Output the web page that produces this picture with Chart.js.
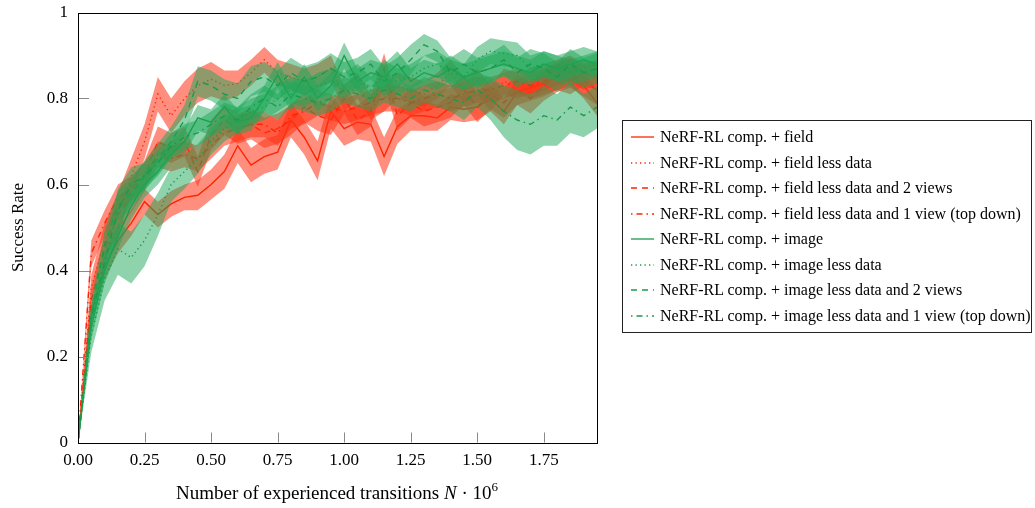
<!DOCTYPE html>
<html>
<head>
<meta charset="utf-8">
<script src="https://cdn.jsdelivr.net/npm/chart.js@4.4.0/dist/chart.umd.min.js"></script>
<style>
  html, body { margin:0; padding:0; background:#fff; }
  #wrap { position:relative; width:1035px; height:508px; overflow:hidden; }
  #c { position:absolute; left:0; top:0; }
  .serif { font-family:"Liberation Serif","DejaVu Serif",serif; color:#000; }
  #xtitle { position:absolute; left:78px; width:518px; top:481px; text-align:center; font-size:19px; line-height:24px; }
  #xtitle sup { font-size:13px; vertical-align:0; position:relative; top:-8px; }
  #legend { position:absolute; left:622px; top:120px; width:410px; height:213px; border:1px solid #222; box-sizing:border-box; }
  .row { position:absolute; left:0; height:20px; font-size:16px; line-height:20px; white-space:nowrap; }
  .row svg { position:absolute; left:8px; top:4px; }
  .row span { position:absolute; left:37px; top:0; }
</style>
</head>
<body>
<div id="wrap">
  <canvas id="c" width="1035" height="508"></canvas>
  <div id="xtitle" class="serif">Number of experienced transitions <i>N</i> · 10<sup>6</sup></div>
  <div id="legend" class="serif"></div>
</div>
<script>
// ---- data ----
const xValues = [0,0.05,0.10,0.15,0.20,0.25,0.30,0.35,0.40,0.45,0.50,0.55,0.60,0.65,0.70,0.75,0.80,0.85,0.90,0.95,
                 1.00,1.05,1.10,1.15,1.20,1.25,1.30,1.35,1.40,1.45,1.50,1.55,1.60,1.65,1.70,1.75,1.80,1.85,1.90,1.95];

const fieldMean = [0,0.30,0.41,0.47,0.51,0.56,0.53,0.555,0.57,0.575,0.60,0.63,0.69,0.645,0.665,0.675,0.75,0.71,0.655,0.77,
                   0.73,0.745,0.74,0.665,0.735,0.76,0.76,0.755,0.78,0.775,0.78,0.80,0.77,0.815,0.825,0.835,0.85,0.86,0.83,0.79];
const fieldSpread = [0,0.02,0.03,0.03,0.03,0.03,0.03,0.03,0.03,0.035,0.035,0.04,0.04,0.04,0.04,0.04,0.04,0.04,0.045,0.04,
                     0.04,0.04,0.04,0.045,0.04,0.035,0.035,0.03,0.03,0.03,0.03,0.03,0.03,0.03,0.03,0.03,0.03,0.03,0.03,0.03];

const fieldLessMean = [0,0.36,0.47,0.53,0.62,0.70,0.81,0.76,0.80,0.83,0.845,0.83,0.835,0.86,0.89,0.86,0.85,0.84,0.85,0.87,
                       0.80,0.83,0.78,0.80,0.83,0.82,0.81,0.83,0.86,0.82,0.84,0.80,0.84,0.83,0.84,0.85,0.86,0.87,0.85,0.86];
const fieldLessSpread = [0,0.03,0.04,0.05,0.04,0.04,0.04,0.04,0.04,0.04,0.04,0.035,0.03,0.03,0.03,0.03,0.03,0.03,0.03,0.03,
                         0.03,0.03,0.03,0.03,0.03,0.03,0.03,0.03,0.03,0.03,0.03,0.03,0.03,0.03,0.03,0.03,0.03,0.03,0.03,0.03];

const field2vMean = [0,0.33,0.45,0.53,0.57,0.62,0.70,0.685,0.70,0.63,0.715,0.75,0.73,0.74,0.72,0.73,0.75,0.78,0.76,0.75,
                     0.80,0.75,0.77,0.87,0.76,0.79,0.77,0.78,0.79,0.82,0.78,0.81,0.79,0.82,0.80,0.83,0.85,0.86,0.84,0.82];
const field2vSpread = [0,0.03,0.035,0.035,0.035,0.035,0.035,0.035,0.035,0.035,0.035,0.035,0.035,0.035,0.035,0.035,0.035,0.035,0.035,0.035,
                       0.035,0.035,0.035,0.035,0.035,0.035,0.035,0.035,0.035,0.035,0.035,0.035,0.035,0.035,0.035,0.035,0.035,0.035,0.035,0.035];

const field1vMean = [0,0.44,0.51,0.57,0.59,0.62,0.67,0.66,0.67,0.66,0.69,0.72,0.73,0.74,0.74,0.72,0.76,0.77,0.79,0.78,
                     0.77,0.78,0.79,0.80,0.80,0.79,0.80,0.81,0.80,0.81,0.82,0.82,0.83,0.84,0.83,0.84,0.85,0.84,0.86,0.85];
const field1vSpread = [0,0.03,0.03,0.03,0.03,0.03,0.03,0.03,0.03,0.03,0.03,0.03,0.03,0.03,0.03,0.03,0.03,0.03,0.03,0.03,
                       0.03,0.03,0.03,0.03,0.03,0.03,0.03,0.03,0.03,0.03,0.03,0.03,0.03,0.03,0.03,0.03,0.03,0.03,0.03,0.03];

const imageMean = [0,0.27,0.40,0.48,0.55,0.60,0.63,0.67,0.70,0.755,0.745,0.78,0.745,0.755,0.80,0.855,0.80,0.85,0.80,0.83,
                   0.90,0.84,0.86,0.85,0.88,0.84,0.86,0.85,0.87,0.85,0.86,0.87,0.88,0.87,0.86,0.88,0.87,0.88,0.89,0.88];
const imageSpread = [0,0.03,0.03,0.03,0.03,0.03,0.03,0.03,0.03,0.03,0.03,0.03,0.03,0.03,0.03,0.03,0.03,0.03,0.03,0.03,
                     0.03,0.03,0.03,0.03,0.03,0.03,0.03,0.03,0.03,0.03,0.03,0.03,0.03,0.03,0.03,0.03,0.03,0.03,0.03,0.03];

const imageLessMean = [0,0.25,0.38,0.45,0.43,0.47,0.53,0.60,0.63,0.66,0.70,0.73,0.75,0.77,0.78,0.80,0.82,0.81,0.83,0.84,
                       0.83,0.85,0.82,0.86,0.84,0.85,0.87,0.88,0.86,0.85,0.89,0.91,0.905,0.90,0.87,0.88,0.87,0.86,0.87,0.88];
const imageLessSpread = [0,0.04,0.05,0.06,0.06,0.06,0.05,0.04,0.04,0.035,0.03,0.03,0.03,0.03,0.03,0.03,0.03,0.03,0.03,0.03,
                         0.03,0.03,0.03,0.03,0.03,0.03,0.03,0.03,0.03,0.03,0.03,0.03,0.03,0.03,0.03,0.03,0.03,0.03,0.03,0.03];

const image2vMean = [0,0.30,0.46,0.55,0.58,0.62,0.66,0.70,0.75,0.84,0.83,0.81,0.80,0.84,0.85,0.83,0.86,0.84,0.85,0.87,
                     0.85,0.86,0.88,0.84,0.86,0.89,0.925,0.91,0.86,0.88,0.86,0.87,0.89,0.86,0.88,0.87,0.85,0.88,0.86,0.87];
const image2vSpread = [0,0.03,0.035,0.035,0.035,0.035,0.035,0.035,0.035,0.035,0.035,0.035,0.035,0.035,0.035,0.035,0.035,0.035,0.035,0.035,
                       0.035,0.035,0.035,0.035,0.035,0.035,0.025,0.025,0.035,0.035,0.035,0.035,0.035,0.035,0.035,0.035,0.035,0.035,0.035,0.035];

const image1vMean = [0,0.29,0.42,0.54,0.60,0.62,0.65,0.69,0.71,0.72,0.74,0.76,0.75,0.78,0.80,0.78,0.81,0.80,0.79,0.80,
                     0.82,0.81,0.80,0.82,0.81,0.80,0.82,0.81,0.80,0.79,0.82,0.80,0.77,0.75,0.74,0.76,0.75,0.78,0.76,0.78];
const image1vSpread = [0,0.03,0.03,0.05,0.04,0.03,0.03,0.03,0.03,0.03,0.03,0.03,0.03,0.03,0.03,0.03,0.03,0.03,0.03,0.03,
                       0.03,0.03,0.03,0.03,0.03,0.03,0.03,0.03,0.03,0.04,0.04,0.05,0.06,0.07,0.07,0.07,0.06,0.06,0.05,0.05];

const xTickValues = [0,0.25,0.50,0.75,1.00,1.25,1.50,1.75];
const seriesNames = [
  "NeRF-RL comp. + field",
  "NeRF-RL comp. + field less data",
  "NeRF-RL comp. + field less data and 2 views",
  "NeRF-RL comp. + field less data and 1 view (top down)",
  "NeRF-RL comp. + image",
  "NeRF-RL comp. + image less data",
  "NeRF-RL comp. + image less data and 2 views",
  "NeRF-RL comp. + image less data and 1 view (top down)"
];

// ---- styles ----
const RED = 'rgb(255,36,0)', RED_BAND = 'rgba(255,50,20,0.55)';
const GREEN = 'rgb(24,155,74)', GREEN_BAND = 'rgba(30,168,88,0.5)';
const DASHES = [[], [1.3,3.2], [6,5], [1.5,4,6,4]];

const series = [
  {mean: fieldMean, spread: fieldSpread, color: RED, band: RED_BAND, dash: DASHES[0]},
  {mean: fieldLessMean, spread: fieldLessSpread, color: RED, band: RED_BAND, dash: DASHES[1]},
  {mean: field2vMean, spread: field2vSpread, color: RED, band: RED_BAND, dash: DASHES[2]},
  {mean: field1vMean, spread: field1vSpread, color: RED, band: RED_BAND, dash: DASHES[3]},
  {mean: imageMean, spread: imageSpread, color: GREEN, band: GREEN_BAND, dash: DASHES[0]},
  {mean: imageLessMean, spread: imageLessSpread, color: GREEN, band: GREEN_BAND, dash: DASHES[1]},
  {mean: image2vMean, spread: image2vSpread, color: GREEN, band: GREEN_BAND, dash: DASHES[2]},
  {mean: image1vMean, spread: image1vSpread, color: GREEN, band: GREEN_BAND, dash: DASHES[3]}
];

const datasets = [];
series.forEach((s, k) => {
  datasets.push({
    label: seriesNames[k] + ' upper',
    data: xValues.map((x, i) => ({x, y: s.mean[i] + s.spread[i]})),
    borderColor: 'rgba(0,0,0,0)', borderWidth: 0, pointRadius: 0, fill: false, tension: 0
  });
  datasets.push({
    label: seriesNames[k] + ' lower',
    data: xValues.map((x, i) => ({x, y: s.mean[i] - s.spread[i]})),
    borderColor: 'rgba(0,0,0,0)', borderWidth: 0, pointRadius: 0, fill: '-1',
    backgroundColor: s.band, tension: 0
  });
  datasets.push({
    label: seriesNames[k],
    data: xValues.map((x, i) => ({x, y: s.mean[i]})),
    borderColor: s.color, borderWidth: 1.4, borderDash: s.dash, pointRadius: 0, fill: false, tension: 0
  });
});
datasets.forEach((d, i) => { d.order = 1000 - i; });

const frame = {
  id: 'frame',
  afterDatasetsDraw(chart) {
    const {ctx, chartArea: a, scales} = chart;
    ctx.save();
    ctx.strokeStyle = '#8a8a8a';
    ctx.lineWidth = 1;
    xTickValues.forEach(v => {
      const px = Math.round(scales.x.getPixelForValue(v)) + 0.5;
      ctx.beginPath(); ctx.moveTo(px, a.bottom); ctx.lineTo(px, a.bottom - 10); ctx.stroke();
    });
    scales.y.ticks.forEach(t => {
      const py = Math.round(scales.y.getPixelForValue(t.value)) + 0.5;
      ctx.beginPath(); ctx.moveTo(a.left, py); ctx.lineTo(a.left + 11, py); ctx.stroke();
    });
    ctx.strokeStyle = '#000';
    ctx.strokeRect(Math.round(a.left) + 0.5, Math.round(a.top) + 0.5, Math.round(a.right - a.left), Math.round(a.bottom - a.top));
    ctx.restore();
  }
};

const FONT = {family: '"Liberation Serif", "DejaVu Serif", serif', size: 17};

new Chart(document.getElementById('c'), {
  type: 'line',
  data: {datasets},
  plugins: [frame],
  options: {
    responsive: false,
    animation: false,
    events: [],
    layout: {padding: {left: 0, right: 438, top: 12.5, bottom: 0}},
    plugins: {legend: {display: false}, tooltip: {enabled: false}},
    scales: {
      x: {
        type: 'linear', min: 0, max: 1.95,
        grid: {display: false, drawTicks: false},
        border: {display: false},
        afterBuildTicks: sc => { sc.ticks = xTickValues.map(v => ({value: v})); },
        afterFit: sc => { sc.height = 65.5; sc.paddingLeft = 0; sc.paddingRight = 0; },
        ticks: {color: '#000', font: FONT, padding: 8, maxRotation: 0, autoSkip: false,
                callback: v => Number(v).toFixed(2)}
      },
      y: {
        type: 'linear', min: 0, max: 1,
        grid: {display: false, drawTicks: false},
        border: {display: false},
        afterFit: sc => { sc.width = 78; sc.paddingTop = 0; sc.paddingBottom = 0; },
        title: {display: true, text: 'Success Rate', color: '#000', font: FONT, padding: {top: 8, bottom: 0}},
        ticks: {color: '#000', font: FONT, padding: 10, stepSize: 0.2,
                callback: v => (Math.abs(v) < 1e-9 ? '0' : Math.abs(v - 1) < 1e-9 ? '1' : Number(v).toFixed(1))}
      }
    }
  }
});

// ---- legend (html) ----
const legend = document.getElementById('legend');
series.forEach((s, k) => {
  const row = document.createElement('div');
  row.className = 'row';
  row.style.top = (6 + k * 25.5) + 'px';
  const dash = s.dash.length ? s.dash.join(',') : 'none';
  row.innerHTML = '<svg width="24" height="12"><line x1="0" y1="6" x2="23" y2="6" stroke="' + s.color +
    '" stroke-width="1.3" stroke-dasharray="' + dash + '"/></svg><span>' + seriesNames[k] + '</span>';
  legend.appendChild(row);
});
</script>
</body>
</html>
